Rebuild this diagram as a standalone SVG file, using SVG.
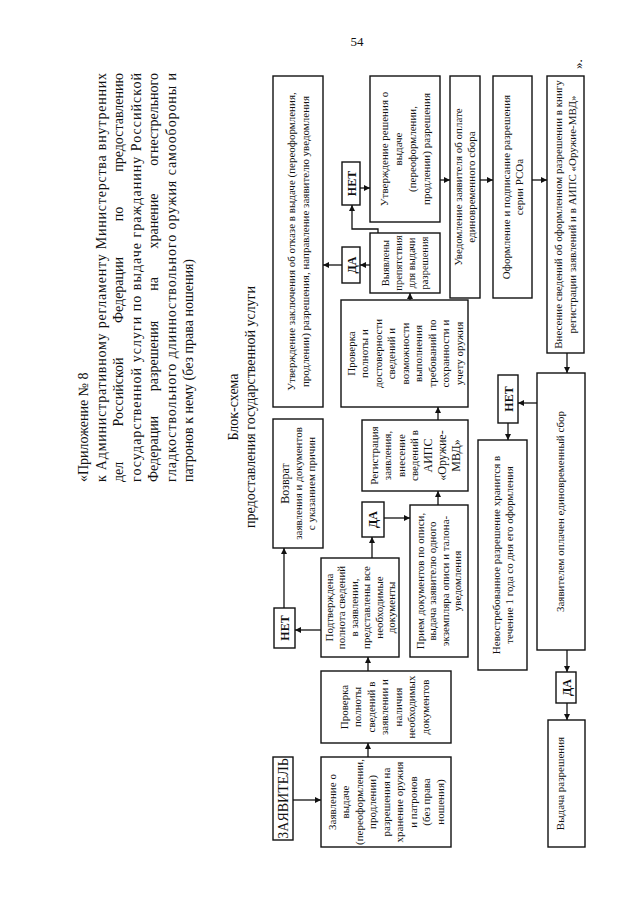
<svg xmlns="http://www.w3.org/2000/svg" width="640" height="905" viewBox="0 0 640 905">
<defs>
<style>
.bx{fill:#fff;stroke:#111;stroke-width:1.4}
.t{font-family:"Liberation Serif","Times New Roman",serif;font-size:11px;fill:#111;text-anchor:middle}
.tb{font-family:"Liberation Serif","Times New Roman",serif;font-size:12px;font-weight:bold;fill:#111;text-anchor:middle}
.h{font-family:"Liberation Serif","Times New Roman",serif;font-size:14px;fill:#111}
.hm{text-anchor:middle}
.he{text-anchor:end}
.ti{font-family:"Liberation Serif","Times New Roman",serif;font-size:14px;fill:#111;text-anchor:middle}
.c{fill:none;stroke:#111;stroke-width:1.3;marker-end:url(#ah)}
</style>
<marker id="ah" viewBox="0 0 10 10" refX="10" refY="5" markerWidth="6" markerHeight="6" orient="auto" markerUnits="userSpaceOnUse"><path d="M0,0 L10,5 L0,10 z" fill="#111"/></marker>
</defs>
<rect width="640" height="905" fill="#fff"/>
<text x="357" y="46" style="font-family:'Liberation Serif',serif;font-size:13px;fill:#111" text-anchor="middle">54</text>
<g transform="translate(0 905) rotate(-90)">
<g id="header">
<text class="h" x="423" y="88">«Приложение № 8</text>
<text class="h" x="423" y="106" textLength="409" lengthAdjust="spacing">к Административному регламенту Министерства внутренних</text>
<text class="h" x="423" y="123">дел</text>
<text class="h hm" x="513" y="123">Российской</text>
<text class="h hm" x="615" y="123">Федерации</text>
<text class="h hm" x="691" y="123">по</text>
<text class="h he" x="832" y="123">предоставлению</text>
<text class="h" x="423" y="141" textLength="409" lengthAdjust="spacing">государственной услуги по выдаче гражданину Российской</text>
<text class="h" x="423" y="158">Федерации</text>
<text class="h hm" x="549" y="158">разрешения</text>
<text class="h hm" x="621" y="158">на</text>
<text class="h hm" x="684" y="158">хранение</text>
<text class="h he" x="832" y="158">огнестрельного</text>
<text class="h" x="423" y="176" textLength="409" lengthAdjust="spacing">гладкоствольного длинноствольного оружия самообороны и</text>
<text class="h" x="423" y="193">патронов к нему (без права ношения)</text>
</g>
<g id="title">
<text class="ti" x="498" y="238">Блок-схема</text>
<text class="ti" x="498" y="255">предоставления государственной услуги</text>
</g>
<g id="connectors">
<path class="c" d="M105 293 L105 321"/>
<path class="c" d="M148 368 L162 368"/>
<path class="c" d="M234 368 L248 368"/>
<path class="c" d="M275 321 L275 295"/>
<path class="c" d="M297 284 L357 284"/>
<path class="c" d="M347 372 L368 372"/>
<path class="c" d="M387 384 L387 410"/>
<path class="c" d="M400 438 L414 438"/>
<path class="c" d="M485 438 L498 438"/>
<path class="c" d="M605 410 L612 410"/>
<path class="c" d="M640 370 L640 360"/>
<path class="c" d="M640 342 L640 323"/>
<path class="c" d="M672 378 L676 378 L676 352 L700 352"/>
<path class="c" d="M717 360 L717 370"/>
<path class="c" d="M725 440 L725 450"/>
<path class="c" d="M725 480 L725 493"/>
<path class="c" d="M725 532 L725 547"/>
<path class="c" d="M552 567 L532 567"/>
<path class="c" d="M502 537 L502 518"/>
<path class="c" d="M482 508 L465 508"/>
<path class="c" d="M255 567 L233 567"/>
<path class="c" d="M202 567 L185 567"/>
</g>
<g id="n-applicant"><rect class="bx" x="65" y="273" width="83" height="20"/><text class="ti" x="106.5" y="288">ЗАЯВИТЕЛЬ</text></g>
<g id="n-request"><rect class="bx" x="58" y="321" width="90" height="130"/>
<text class="t" x="103" y="335.5">Заявление о</text>
<text class="t" x="103" y="349">выдаче</text>
<text class="t" x="103" y="362.5">(переоформлении,</text>
<text class="t" x="103" y="376">продлении)</text>
<text class="t" x="103" y="389.5">разрешения на</text>
<text class="t" x="103" y="403">хранение оружия</text>
<text class="t" x="103" y="416.5">и патронов</text>
<text class="t" x="103" y="430">(без права</text>
<text class="t" x="103" y="443.5">ношения)</text>
</g>
<g id="n-check1"><rect class="bx" x="162" y="321" width="72" height="130"/>
<text class="t" x="198" y="347.5">Проверка</text>
<text class="t" x="198" y="361">полноты</text>
<text class="t" x="198" y="374.5">сведений в</text>
<text class="t" x="198" y="388">заявлении и</text>
<text class="t" x="198" y="401.5">наличия</text>
<text class="t" x="198" y="415">необходимых</text>
<text class="t" x="198" y="428.5">документов</text>
</g>
<g id="n-confirmed"><rect class="bx" x="248" y="321" width="99" height="78"/>
<text class="t" x="297.5" y="332.5">Подтверждена</text>
<text class="t" x="297.5" y="345">полнота сведений</text>
<text class="t" x="297.5" y="357.5">в заявлении,</text>
<text class="t" x="297.5" y="370">представлены все</text>
<text class="t" x="297.5" y="382.5">необходимые</text>
<text class="t" x="297.5" y="395">документы</text>
</g>
<g id="n-no1"><rect class="bx" x="257" y="274" width="40" height="21"/><text class="tb" x="277" y="288.5">НЕТ</text></g>
<g id="n-return"><rect class="bx" x="357" y="273" width="129" height="50"/>
<text class="t" x="421.5" y="289" style="font-size:12px">Возврат</text>
<text class="t" x="421.5" y="302">заявления и документов</text>
<text class="t" x="421.5" y="315">с указанием причин</text>
</g>
<g id="n-yes1"><rect class="bx" x="368" y="362" width="35" height="22"/><text class="tb" x="385.5" y="377">ДА</text></g>
<g id="n-accept"><rect class="bx" x="248" y="410" width="152" height="58"/>
<text class="t" x="324" y="423.5">Прием документов по описи,</text>
<text class="t" x="324" y="436">выдача заявителю одного</text>
<text class="t" x="324" y="448.5">экземпляра описи и талона-</text>
<text class="t" x="324" y="461">уведомления</text>
</g>
<g id="n-register"><rect class="bx" x="414" y="362" width="71" height="106"/>
<text class="t" x="449.5" y="377.5">Регистрация</text>
<text class="t" x="449.5" y="391">заявления,</text>
<text class="t" x="449.5" y="404.5">внесение</text>
<text class="t" x="449.5" y="418">сведений в</text>
<text class="t" x="449.5" y="432" style="font-size:12px">АИПС</text>
<text class="t" x="449.5" y="446" style="font-size:12px">«Оружие-</text>
<text class="t" x="449.5" y="460" style="font-size:12px">МВД»</text>
</g>
<g id="n-check2"><rect class="bx" x="498" y="341" width="107" height="127"/>
<text class="t" x="551.5" y="354.5">Проверка</text>
<text class="t" x="551.5" y="368">полноты и</text>
<text class="t" x="551.5" y="381.5">достоверности</text>
<text class="t" x="551.5" y="395">сведений и</text>
<text class="t" x="551.5" y="408.5">возможности</text>
<text class="t" x="551.5" y="422">выполнения</text>
<text class="t" x="551.5" y="435.5">требований по</text>
<text class="t" x="551.5" y="449">сохранности и</text>
<text class="t" x="551.5" y="462.5">учету оружия</text>
</g>
<g id="n-refusal"><rect class="bx" x="498" y="273" width="331" height="50"/>
<text class="t" x="663.5" y="294.5">Утверждение заключения об отказе в выдаче (переоформления,</text>
<text class="t" x="663.5" y="308.5">продлении) разрешения, направление заявителю уведомления</text>
</g>
<g id="n-obstacles"><rect class="bx" x="612" y="370" width="60" height="70"/>
<text class="t" x="642" y="389" style="font-size:10.5px">Выявлены</text>
<text class="t" x="642" y="402" style="font-size:10.5px">препятствия</text>
<text class="t" x="642" y="415" style="font-size:10.5px">для выдачи</text>
<text class="t" x="642" y="428" style="font-size:10.5px">разрешения</text>
</g>
<g id="n-yes2"><rect class="bx" x="622" y="342" width="36" height="18"/><text class="tb" x="640" y="355.5">ДА</text></g>
<g id="n-no2"><rect class="bx" x="700" y="342" width="43" height="18"/><text class="tb" x="721.5" y="355.5">НЕТ</text></g>
<g id="n-approve"><rect class="bx" x="683" y="370" width="146" height="70"/>
<text class="t" x="756" y="387.5">Утверждение решения о</text>
<text class="t" x="756" y="401.5">выдаче</text>
<text class="t" x="756" y="415.5">(переоформлении,</text>
<text class="t" x="756" y="429.5">продлении) разрешения</text>
</g>
<g id="n-notify"><rect class="bx" x="607" y="450" width="222" height="30"/>
<text class="t" x="718" y="462">Уведомление заявителя об оплате</text>
<text class="t" x="718" y="475">единовременного сбора</text>
</g>
<g id="n-issue-form"><rect class="bx" x="607" y="493" width="222" height="39"/>
<text class="t" x="718" y="509.5">Оформление и подписание разрешения</text>
<text class="t" x="718" y="522.5">серии РСОа</text>
</g>
<g id="n-record"><rect class="bx" x="552" y="547" width="277" height="37"/>
<text class="t" x="690.5" y="562">Внесение сведений об оформленном разрешении в книгу</text>
<text class="t" x="690.5" y="576">регистрации заявлений и в АИПС «Оружие-МВД»</text>
</g>
<text class="t" x="836" y="582" style="font-size:13px;text-anchor:start">».</text>
<g id="n-paid"><rect class="bx" x="255" y="537" width="277" height="48"/>
<text class="t" x="393.5" y="564">Заявителем оплачен единовременный сбор</text>
</g>
<g id="n-no3"><rect class="bx" x="482" y="498" width="48" height="20"/><text class="tb" x="506" y="512.5">НЕТ</text></g>
<g id="n-unclaimed"><rect class="bx" x="235" y="478" width="230" height="49"/>
<text class="t" x="350" y="499.5">Невостребованное разрешение хранится в</text>
<text class="t" x="350" y="512.5">течение 1 года со дня его оформления</text>
</g>
<g id="n-yes3"><rect class="bx" x="202" y="556" width="31" height="20"/><text class="tb" x="217.5" y="570.5">ДА</text></g>
<g id="n-deliver"><rect class="bx" x="58" y="548" width="127" height="37"/>
<text class="t" x="121.5" y="564">Выдача разрешения</text>
</g>
</g>
</svg>
